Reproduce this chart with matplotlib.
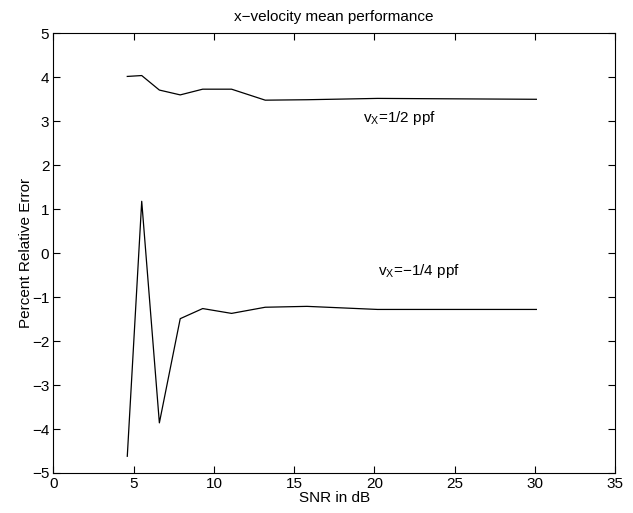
import matplotlib
matplotlib.use("Agg")
import matplotlib.pyplot as plt

plt.rcParams["font.family"] = ["Liberation Sans", "DejaVu Sans"]
plt.rcParams["font.size"] = 11

snr_db = [4.6, 5.5, 6.6, 7.9, 9.3, 11.1, 13.2, 15.8, 20.2, 25.2, 30.1]
err_half = [4.02, 4.04, 3.71, 3.60, 3.73, 3.73, 3.48, 3.49, 3.52, 3.51, 3.50]
err_quarter = [-4.62, 1.18, -3.86, -1.49, -1.26, -1.37, -1.23, -1.21, -1.28, -1.28, -1.28]

fig = plt.figure(figsize=(6.33, 5.13), dpi=100)
ax = fig.add_axes([0.0845, 0.078, 0.887, 0.857])

ax.plot(snr_db, err_half, color="black", linewidth=0.9)
ax.plot(snr_db, err_quarter, color="black", linewidth=0.9)

ax.text(19.3, 2.98, r"$\mathregular{v_X}$=1/2 ppf", fontsize=11)
ax.text(20.2, -0.5, "$\\mathregular{v_X}$=\u22121/4 ppf", fontsize=11)

ax.set_xlim(0, 35)
ax.set_ylim(-5, 5)
ax.set_xticks(range(0, 36, 5))
ax.set_yticks(range(-5, 6))
ax.tick_params(direction="in", length=5, width=0.8, top=True, right=True,
               labelsize=11, pad=3)
for s in ax.spines.values():
    s.set_linewidth(0.8)

ax.set_title("x\u2212velocity mean performance", fontsize=11, pad=9)
ax.set_xlabel("SNR in dB", fontsize=11, labelpad=0)
ax.set_ylabel("Percent Relative Error", fontsize=11)
ax.yaxis.set_label_coords(-0.037, 0.5)

fig.savefig("out.png", dpi=100)
